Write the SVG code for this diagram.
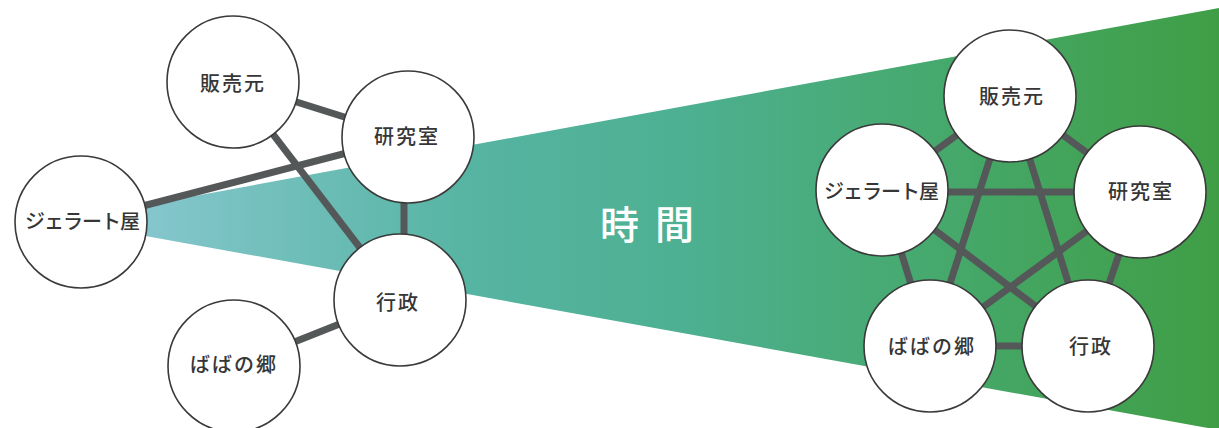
<svg xmlns="http://www.w3.org/2000/svg" width="1219" height="428" viewBox="0 0 1219 428">
  <defs>
    <linearGradient id="wedge" gradientUnits="userSpaceOnUse" x1="150" y1="0" x2="1219" y2="0">
      <stop offset="0" stop-color="#84c6cc"/>
      <stop offset="0.3" stop-color="#56b4a2"/>
      <stop offset="0.5" stop-color="#4db091"/>
      <stop offset="0.7" stop-color="#47aa72"/>
      <stop offset="1" stop-color="#3f9e45"/>
    </linearGradient>
  </defs>
  <style>
    .node { fill: #ffffff; stroke: #3a3a3a; stroke-width: 1.6; }
    .lbl { font-family: "Noto Sans CJK JP", "Noto Sans", sans-serif; font-size: 20px; font-weight: 500; fill: #363636; text-anchor: middle; letter-spacing: 2px; }
    .lbl.kana { letter-spacing: -1px; }
    .edge { stroke: #555859; stroke-width: 7; fill: none; }
    .title { font-family: "Noto Sans CJK JP", "Noto Sans", sans-serif; font-size: 39px; font-weight: 500; fill: #ffffff; text-anchor: middle; letter-spacing: 16px; }
  </style>
  <rect width="1219" height="428" fill="#ffffff"/>
  <polygon points="140,206 1219,8 1219,430 140,235" fill="url(#wedge)"/>
  <text class="title" x="655" y="239">時間</text>

  <g id="connectors">
    <line class="edge" x1="233" y1="82" x2="408" y2="137"/>
    <line class="edge" x1="233" y1="82" x2="400" y2="300"/>
    <line class="edge" x1="81" y1="222" x2="408" y2="137"/>
    <line class="edge" x1="404" y1="137" x2="404" y2="300"/>
    <line class="edge" x1="234" y1="366" x2="400" y2="300"/>

    <line class="edge" x1="1010" y1="96" x2="882" y2="190"/>
    <line class="edge" x1="1010" y1="96" x2="1140" y2="192"/>
    <line class="edge" x1="882" y1="190" x2="930" y2="346"/>
    <line class="edge" x1="1140" y1="192" x2="1088" y2="346"/>
    <line class="edge" x1="930" y1="346" x2="1088" y2="346"/>
    <line class="edge" x1="1010" y1="96" x2="930" y2="346"/>
    <line class="edge" x1="1010" y1="96" x2="1088" y2="346"/>
    <line class="edge" x1="882" y1="192" x2="1140" y2="192"/>
    <line class="edge" x1="882" y1="190" x2="1088" y2="346"/>
    <line class="edge" x1="1140" y1="192" x2="930" y2="346"/>
  </g>

  <g id="left-hanbaimoto">
    <circle class="node" cx="233" cy="82" r="66"/>
    <text class="lbl" x="233" y="91">販売元</text>
  </g>
  <g id="left-kenkyushitsu">
    <circle class="node" cx="408" cy="137" r="66"/>
    <text class="lbl" x="407" y="144">研究室</text>
  </g>
  <g id="left-gelato">
    <circle class="node" cx="81" cy="222" r="66"/>
    <text class="lbl kana" x="82" y="229">ジェラート屋</text>
  </g>
  <g id="left-gyousei">
    <circle class="node" cx="400" cy="300" r="66"/>
    <text class="lbl" x="398" y="310">行政</text>
  </g>
  <g id="left-babanosato">
    <circle class="node" cx="234" cy="366" r="66"/>
    <text class="lbl" x="234" y="372">ばばの郷</text>
  </g>

  <g id="right-hanbaimoto">
    <circle class="node" cx="1010" cy="96" r="66"/>
    <text class="lbl" x="1012" y="104">販売元</text>
  </g>
  <g id="right-gelato">
    <circle class="node" cx="882" cy="190" r="66"/>
    <text class="lbl kana" x="881" y="199">ジェラート屋</text>
  </g>
  <g id="right-kenkyushitsu">
    <circle class="node" cx="1140" cy="192" r="66"/>
    <text class="lbl" x="1141" y="199">研究室</text>
  </g>
  <g id="right-babanosato">
    <circle class="node" cx="930" cy="346" r="66"/>
    <text class="lbl" x="932" y="354">ばばの郷</text>
  </g>
  <g id="right-gyousei">
    <circle class="node" cx="1088" cy="346" r="66"/>
    <text class="lbl" x="1091" y="354">行政</text>
  </g>
</svg>
